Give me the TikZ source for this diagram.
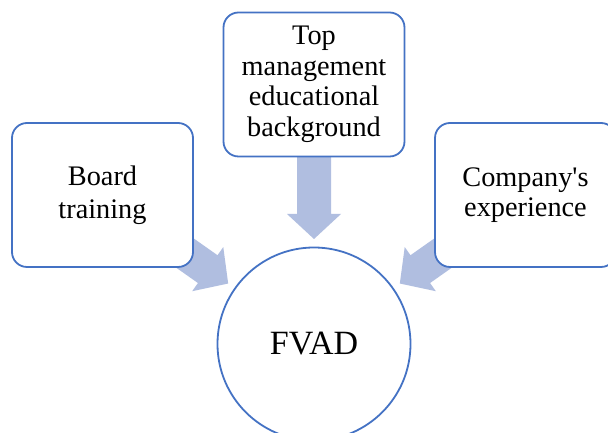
\documentclass[tikz,border=0pt]{standalone}
\usepackage{fontspec}
\setmainfont{Liberation Serif}[Ligatures=TeXOff]
\usetikzlibrary{calc}
\definecolor{bordc}{RGB}{68,114,196}
\definecolor{arrc}{RGB}{176,190,224}
\newcommand\fatarrow[2]{%
  \coordinate (#2t) at ($(fvad.center)!105pt!(#1.center)$);
  \coordinate (#2h) at ($(fvad.center)!130pt!(#1.center)$);
  \coordinate (#2s) at ($(fvad.center)!200pt!(#1.center)$);
  \fill[arrc] (#2t) -- ($(#2h)!27pt!90:(fvad.center)$) -- ($(#2h)!17pt!90:(fvad.center)$)
    -- ($(#2s)!17pt!90:(fvad.center)$) -- ($(#2s)!17pt!-90:(fvad.center)$)
    -- ($(#2h)!17pt!-90:(fvad.center)$) -- ($(#2h)!27pt!-90:(fvad.center)$) -- cycle;
}
\begin{document}
\begin{tikzpicture}[x=1pt,y=1pt,
  box/.style={draw=bordc,line width=1.8pt,fill=white,rounded corners=15pt,
    minimum width=181pt,minimum height=144pt,align=center,inner sep=0pt,
    font=\fontsize{28.3}{30.5}\selectfont},
  circ/.style={draw=bordc,line width=1.8pt,fill=white,circle,minimum size=193pt,
    inner sep=0pt,font=\fontsize{34}{40}\selectfont}]
\useasboundingbox (0,0) rectangle (608,433);
\clip (0,0) rectangle (608,433);
\fill[white] (0,0) rectangle (608,433);
\coordinate (fvad) at (314,89);
\coordinate (board) at (102.5,238);
\coordinate (top) at (314,348.5);
\coordinate (comp) at (525.5,238);
\fatarrow{board}{a1}
\fatarrow{top}{a2}
\fatarrow{comp}{a3}
\node[box,font=\fontsize{28.3}{32.5}\selectfont] (boardn) at (board) {Board\\training};
\node[box] (topn) at (top) {Top\\management\\educational\\background};
\node[box] (compn) at (comp) {Company's\\experience};
\node[circ] (fvadn) at (fvad) {FVAD};
\end{tikzpicture}
\end{document}
